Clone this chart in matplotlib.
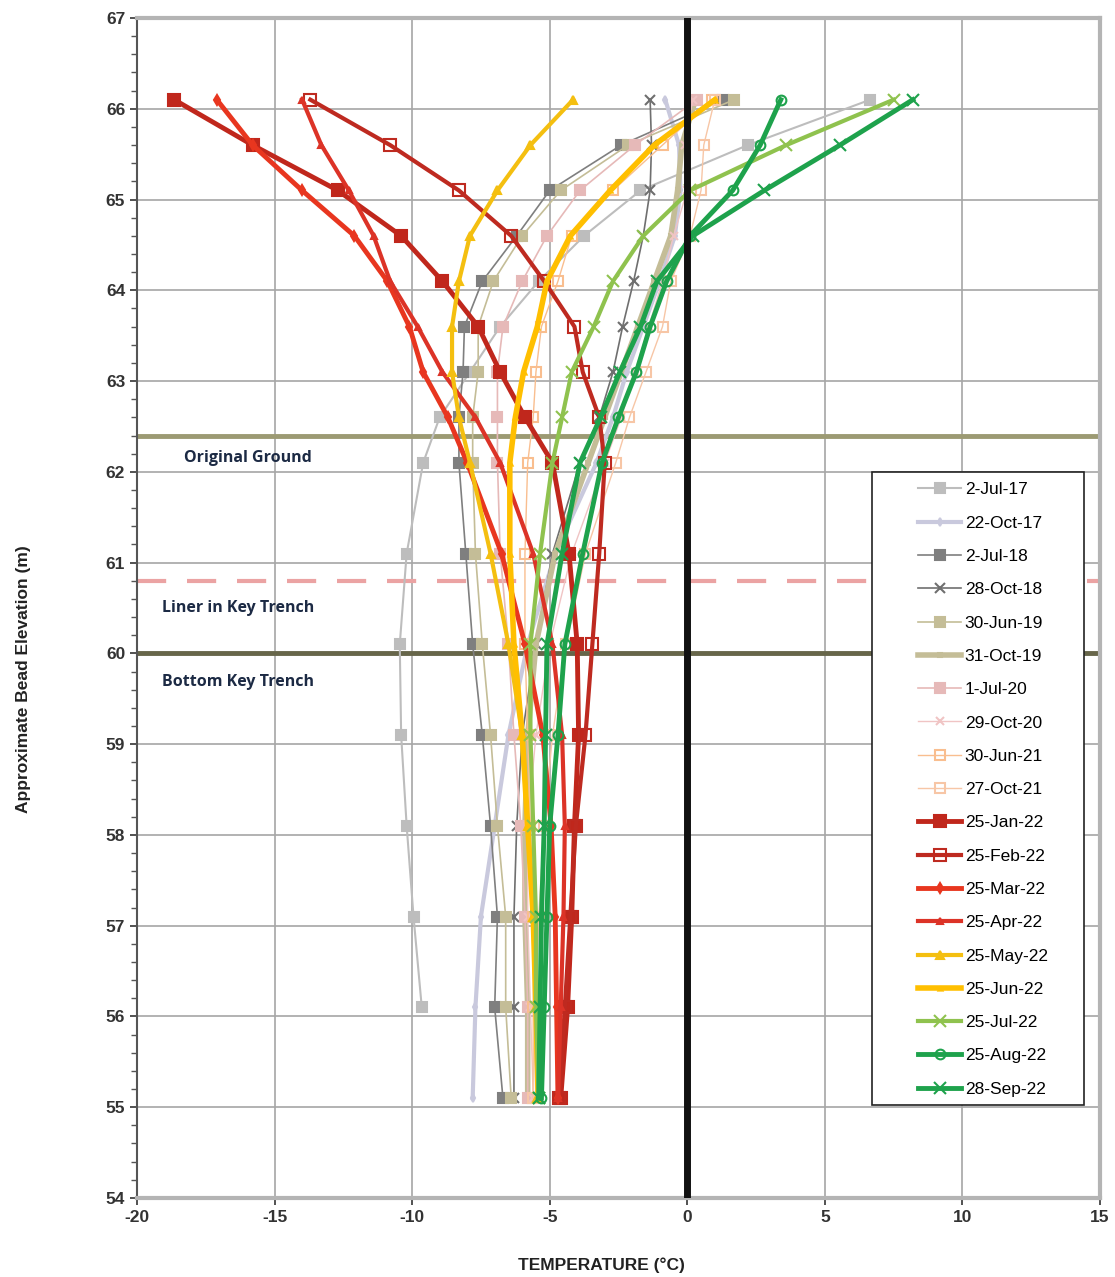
import numpy as np
import matplotlib
matplotlib.use("Agg")
from matplotlib import pyplot as plt
from matplotlib.ticker import MultipleLocator
from matplotlib.patches import Rectangle

plt.rcParams['font.family'] = ['Liberation Sans', 'DejaVu Sans']
plt.rcParams['axes.unicode_minus'] = False

# bead elevations (m)
elev = [66.1, 65.6, 65.1, 64.6, 64.1, 63.6, 63.1, 62.6, 62.1, 61.1, 60.1, 59.1, 58.1, 57.1, 56.1, 55.1]

# temperatures (deg C) per survey, top bead first
t_2jul17 = [6.65, 2.2, -1.7, -3.75, -5.4, -6.8, -7.9, -9.0, -9.6, -10.2, -10.45, -10.4, -10.2, -9.95, -9.65, np.nan]
t_22oct17 = [-0.8, -0.3, -0.25, -0.45, -1.0, -1.6, -2.2, -2.7, -3.3, -4.8, -5.8, -6.5, -7.0, -7.5, -7.7, -7.8]
t_2jul18 = [1.3, -2.4, -5.0, -6.2, -7.45, -8.1, -8.15, -8.3, -8.3, -8.05, -7.8, -7.45, -7.15, -6.9, -7.0, -6.7]
t_28oct18 = [-1.35, -1.3, -1.35, -1.6, -1.95, -2.35, -2.7, -3.2, -3.9, -4.9, -5.5, -6.0, -6.2, -6.3, -6.3, -6.3]
t_30jun19 = [1.7, -2.15, -4.6, -6.0, -7.05, -7.6, -7.6, -7.8, -7.8, -7.7, -7.45, -7.15, -6.9, -6.6, -6.6, -6.4]
t_31oct19 = [0.3, -0.2, -0.35, -0.6, -1.2, -1.8, -2.4, -3.0, -3.6, -4.8, -5.5, -5.8, -5.9, -5.9, -5.8, -5.8]
t_1jul20 = [0.35, -1.9, -3.9, -5.1, -6.0, -6.7, -6.9, -6.9, -6.9, -6.8, -6.5, -6.3, -6.05, -5.9, -5.8, -5.8]
t_29oct20 = [0.2, -0.1, 0.0, -0.5, -0.9, -1.4, -1.9, -2.4, -3.0, -4.2, -5.0, -5.5, -5.8, -5.8, -5.7, -5.6]
t_30jun21 = [0.9, -0.9, -2.7, -4.2, -4.7, -5.3, -5.5, -5.6, -5.8, -5.9, -5.9, -5.8, -5.7, -5.6, -5.6, -5.6]
t_27oct21 = [1.0, 0.6, 0.5, 0.1, -0.6, -0.9, -1.5, -2.1, -2.6, -3.7, -4.4, -4.9, -5.2, -5.4, -5.5, -5.6]
t_25jan22 = [-18.65, -15.8, -12.7, -10.4, -8.9, -7.6, -6.8, -5.9, -4.9, -4.3, -4.0, -3.95, -4.1, -4.2, -4.35, -4.6]
t_25feb22 = [-13.7, -10.8, -8.3, -6.4, -5.2, -4.1, -3.8, -3.2, -3.0, -3.2, -3.45, -3.7, -4.05, -4.25, -4.45, -4.65]
t_25mar22 = [-17.1, -15.8, -14.0, -12.1, -10.9, -10.1, -9.6, -8.7, -8.0, -6.75, -5.9, -5.25, -4.95, -4.8, -4.75, -4.7]
t_25apr22 = [-14.0, -13.3, -12.3, -11.4, -10.8, -9.8, -8.9, -7.7, -6.8, -5.6, -4.9, -4.55, -4.45, -4.5, -4.6, -4.7]
t_25may22 = [-4.15, -5.7, -6.9, -7.9, -8.3, -8.55, -8.55, -8.3, -7.9, -7.15, -6.5, -6.0, -5.8, -5.6, -5.5, -5.45]
t_25jun22 = [1.0, -1.2, -2.8, -4.25, -5.1, -5.45, -5.95, -6.25, -6.45, -6.45, -6.3, -6.0, -5.8, -5.6, -5.5, -5.4]
t_25jul22 = [7.5, 3.6, 0.1, -1.6, -2.7, -3.4, -4.2, -4.55, -4.9, -5.35, -5.7, -5.7, -5.6, -5.5, -5.5, -5.4]
t_25aug22 = [3.4, 2.65, 1.65, 0.1, -0.75, -1.35, -1.85, -2.5, -3.1, -3.8, -4.45, -4.7, -5.0, -5.1, -5.2, -5.3]
t_28sep22 = [8.2, 5.55, 2.8, 0.2, -1.1, -1.7, -2.45, -3.15, -3.9, -4.55, -5.1, -5.15, -5.2, -5.3, -5.35, -5.4]

# reference levels (m)
original_ground = 62.4
liner_key_trench = 60.8
bottom_key_trench = 60.0

fig = plt.figure(figsize=(11.15, 12.77), dpi=100)
ax = fig.add_axes([0.1229, 0.0619, 0.8636, 0.9240])

# label, data, colour, linewidth, marker, marker size, filled?
series = [
    ("2-Jul-17", t_2jul17, "#bdbdbd", 1.5, "s", 7, True),
    ("22-Oct-17", t_22oct17, "#c9c9dd", 3.0, "d", 4, True),
    ("2-Jul-18", t_2jul18, "#7f7f7f", 1.2, "s", 7, True),
    ("28-Oct-18", t_28oct18, "#6f6f6f", 1.2, "x", 7, True),
    ("30-Jun-19", t_30jun19, "#c4bd97", 1.2, "s", 7, True),
    ("31-Oct-19", t_31oct19, "#c4bd97", 4.0, "s", 3, True),
    ("1-Jul-20", t_1jul20, "#e6b9b8", 1.2, "s", 7, True),
    ("29-Oct-20", t_29oct20, "#f0c4c4", 1.0, "x", 6, True),
    ("30-Jun-21", t_30jun21, "#f9be8f", 1.0, "s", 7, False),
    ("27-Oct-21", t_27oct21, "#f7c6a6", 1.0, "s", 7, False),
    ("25-Jan-22", t_25jan22, "#c0271c", 3.5, "s", 8, True),
    ("25-Feb-22", t_25feb22, "#be2a20", 3.0, "s", 8, False),
    ("25-Mar-22", t_25mar22, "#e8361f", 3.5, "d", 5, True),
    ("25-Apr-22", t_25apr22, "#dc3327", 3.0, "^", 5, True),
    ("25-May-22", t_25may22, "#f4bf10", 3.0, "^", 6, True),
    ("25-Jun-22", t_25jun22, "#ffbf00", 4.0, "^", 3, True),
    ("25-Jul-22", t_25jul22, "#8fc24e", 3.0, "x", 8, True),
    ("25-Aug-22", t_25aug22, "#1ea24c", 3.5, "o", 7, False),
    ("28-Sep-22", t_28sep22, "#1ea24c", 3.5, "x", 8, True),
]

for label, temps, col, lw, mk, ms, filled in series:
    ax.plot(temps, elev, color=col, lw=lw, marker=mk, ms=ms,
            mfc=col if filled else "none", mec=col, mew=1.5, label=label, zorder=3)

# reference levels and 0 degree line
ax.axhline(original_ground, color="#9c9a73", lw=3.5, zorder=2)
ax.axhline(liner_key_trench, color="#eba3a3", lw=3, ls=(0, (7, 5)), zorder=2)
ax.axhline(bottom_key_trench, color="#67664a", lw=3.5, zorder=2)
ax.axvline(0, color="#111111", lw=5, zorder=4)

lbl_font = dict(family=["Open Sans", "DejaVu Sans"], fontweight="bold", fontsize=11.5, color="#1c2a44")
ax.text(-18.3, 62.15, "Original Ground", va="center", ha="left", **lbl_font)
ax.text(-19.1, 60.5, "Liner in Key Trench", va="center", ha="left", **lbl_font)
ax.text(-19.1, 59.68, "Bottom Key Trench", va="center", ha="left", **lbl_font)

ax.set_xlim(-20, 15)
ax.set_ylim(54, 67)
ax.xaxis.set_major_locator(MultipleLocator(5))
ax.yaxis.set_major_locator(MultipleLocator(1))
ax.yaxis.set_minor_locator(MultipleLocator(0.2))
ax.grid(True, which="major", color="#a6a6a6", lw=1.2, zorder=0)
ax.tick_params(axis="both", which="major", labelsize=12.5, colors="#333333", length=5, width=1.2)
ax.tick_params(axis="y", which="minor", length=4, width=1, colors="#555555")
for lab in ax.get_xticklabels() + ax.get_yticklabels():
    lab.set_fontweight("bold")

for side in ["top", "right", "bottom"]:
    ax.spines[side].set_color("#b4b4b4")
    ax.spines[side].set_linewidth(3)
ax.spines["left"].set_color("#555555")
ax.spines["left"].set_linewidth(1.5)

ax.set_xlabel("TEMPERATURE (°C)", fontsize=12.5, fontweight="bold", color="#222222")
ax.xaxis.set_label_coords(0.482, -0.05)
ax.set_ylabel("Approximate Bead Elevation (m)", fontsize=12.5, fontweight="bold", color="#222222")
ax.yaxis.set_label_coords(-0.11, 0.44)

# legend entries without frame, framed by a separate box with wide side margins
leg = ax.legend(loc="upper left", bbox_to_anchor=(0.811, 0.6065), fontsize=12.5,
                labelspacing=1.045, handlelength=2.5, handletextpad=0.2,
                borderpad=0, frameon=False, borderaxespad=0)
leg.set_zorder(6)
box = Rectangle((0.7632, 0.0786), 0.2201, 0.5365, transform=ax.transAxes,
                facecolor="white", edgecolor="#222222", lw=1.2, zorder=5)
ax.add_patch(box)

fig.savefig("out.png", dpi=100)
